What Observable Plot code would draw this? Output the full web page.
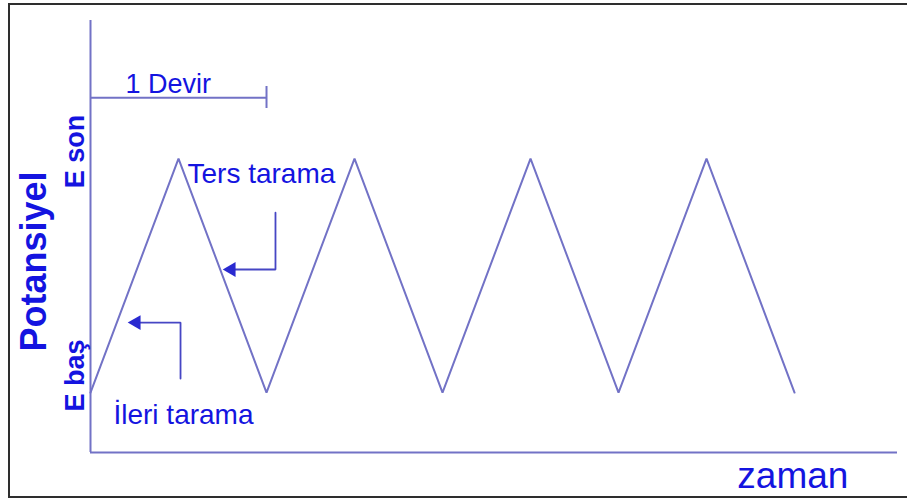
<!DOCTYPE html>
<html>
<head>
<meta charset="utf-8">
<script src="https://cdn.jsdelivr.net/npm/d3@7"></script>
<script src="https://cdn.jsdelivr.net/npm/@observablehq/plot@0.6"></script>
<style>
  html, body { margin: 0; padding: 0; background: #fff; overflow: hidden; }
  #wrap { position: relative; width: 907px; height: 502px; }
  #border { position: absolute; left: 8px; top: 3px; width: 910px; height: 495px;
            border: 2px solid #2e2e2e; box-sizing: border-box; }
  #chart { position: absolute; left: 0; top: 0; }
</style>
</head>
<body>
<div id="wrap"><div id="border"></div><div id="chart"></div></div>
<script>
// Cyclic voltammetry potential programme: triangular sweeps between E baş and E son
const vertexTime = [0, 1, 2, 3, 4, 5, 6, 7, 8];          // half-cycle vertices (time units)
const vertexPotential = [0, 1, 0, 1, 0, 1, 0, 1, 0];     // 0 = E baş, 1 = E son
const cycleStart = 0;
const cycleEnd = 2;                                     // one full cycle = two half sweeps
const axisLabels = { x: "zaman", y: "Potansiyel", eStart: "E baş", eEnd: "E son" };
const sweepLabels = { cycle: "1 Devir", forward: "İleri tarama", reverse: "Ters tarama" };

const xMax = 9.17, yMin = -0.256, yMax = 1.59;
const lineColor = "#7272c6";
const textColor = "#1414e0";
const arrowColor = "#4646c4";
const font = "Liberation Sans, Arial, Helvetica, sans-serif";

const wave = vertexTime.map((t, i) => ({ t, e: vertexPotential[i] }));

// annotation arrows: L-shaped leaders ending in a left-pointing head
const reverseArrow = [{ t: 2.102, e: 0.769 }, { t: 2.102, e: 0.526 }, { t: 1.62, e: 0.526 }];
const forwardArrow = [{ t: 1.023, e: 0.060 }, { t: 1.023, e: 0.299 }, { t: 0.54, e: 0.299 }];
const heads = [{ t: 1.60, e: 0.526 }, { t: 0.52, e: 0.299 }];

const chart = Plot.plot({
  width: 907,
  height: 502,
  marginLeft: 90,
  marginRight: 10,
  marginTop: 20,
  marginBottom: 50,
  x: { domain: [0, xMax], axis: null },
  y: { domain: [yMin, yMax], axis: null },
  style: { background: "transparent", overflow: "visible", fontFamily: font },
  marks: [
    // axes
    Plot.ruleX([0], { stroke: lineColor, strokeWidth: 2 }),
    Plot.ruleY([yMin], { stroke: lineColor, strokeWidth: 2 }),
    // triangular potential sweep
    Plot.line(wave, { x: "t", y: "e", stroke: lineColor, strokeWidth: 2, strokeLinejoin: "miter" }),
    // one-cycle bracket
    Plot.ruleY([1.26], { x1: cycleStart, x2: cycleEnd, stroke: lineColor, strokeWidth: 2 }),
    Plot.ruleX([cycleEnd], { y1: 1.214, y2: 1.308, stroke: lineColor, strokeWidth: 2 }),
    Plot.text([sweepLabels.cycle], { x: 0.398, y: 1.319, textAnchor: "start", fontSize: 27, fill: textColor }),
    // sweep direction arrows
    Plot.line(reverseArrow, { x: "t", y: "e", stroke: arrowColor, strokeWidth: 1.8, strokeLinejoin: "miter" }),
    Plot.line(forwardArrow, { x: "t", y: "e", stroke: arrowColor, strokeWidth: 1.8, strokeLinejoin: "miter" }),
    Plot.dot(heads, { x: "t", y: "e", symbol: "triangle", r: 5.5, rotate: -90, fill: "#2a2ad0", stroke: "none" }),
    Plot.text([sweepLabels.reverse], { x: 1.102, y: 0.932, textAnchor: "start", fontSize: 28, fill: textColor }),
    Plot.text([sweepLabels.forward], { x: 0.261, y: -0.094, textAnchor: "start", fontSize: 28, fill: textColor }),
    // axis titles and potential limits
    Plot.text([axisLabels.x], { x: 7.35, y: -0.355, textAnchor: "start", fontSize: 37, fill: textColor }),
    Plot.text([axisLabels.y], { x: -0.64, y: 0.56, rotate: -90, fontSize: 36, fontWeight: "bold", fill: textColor }),
    Plot.text([axisLabels.eEnd], { x: -0.177, y: 1.03, rotate: -90, fontSize: 27, fontWeight: "bold", fill: textColor }),
    Plot.text([axisLabels.eStart], { x: -0.177, y: 0.073, rotate: -90, fontSize: 27, fontWeight: "bold", fill: textColor })
  ]
});

document.getElementById("chart").appendChild(chart);
</script>
</body>
</html>
